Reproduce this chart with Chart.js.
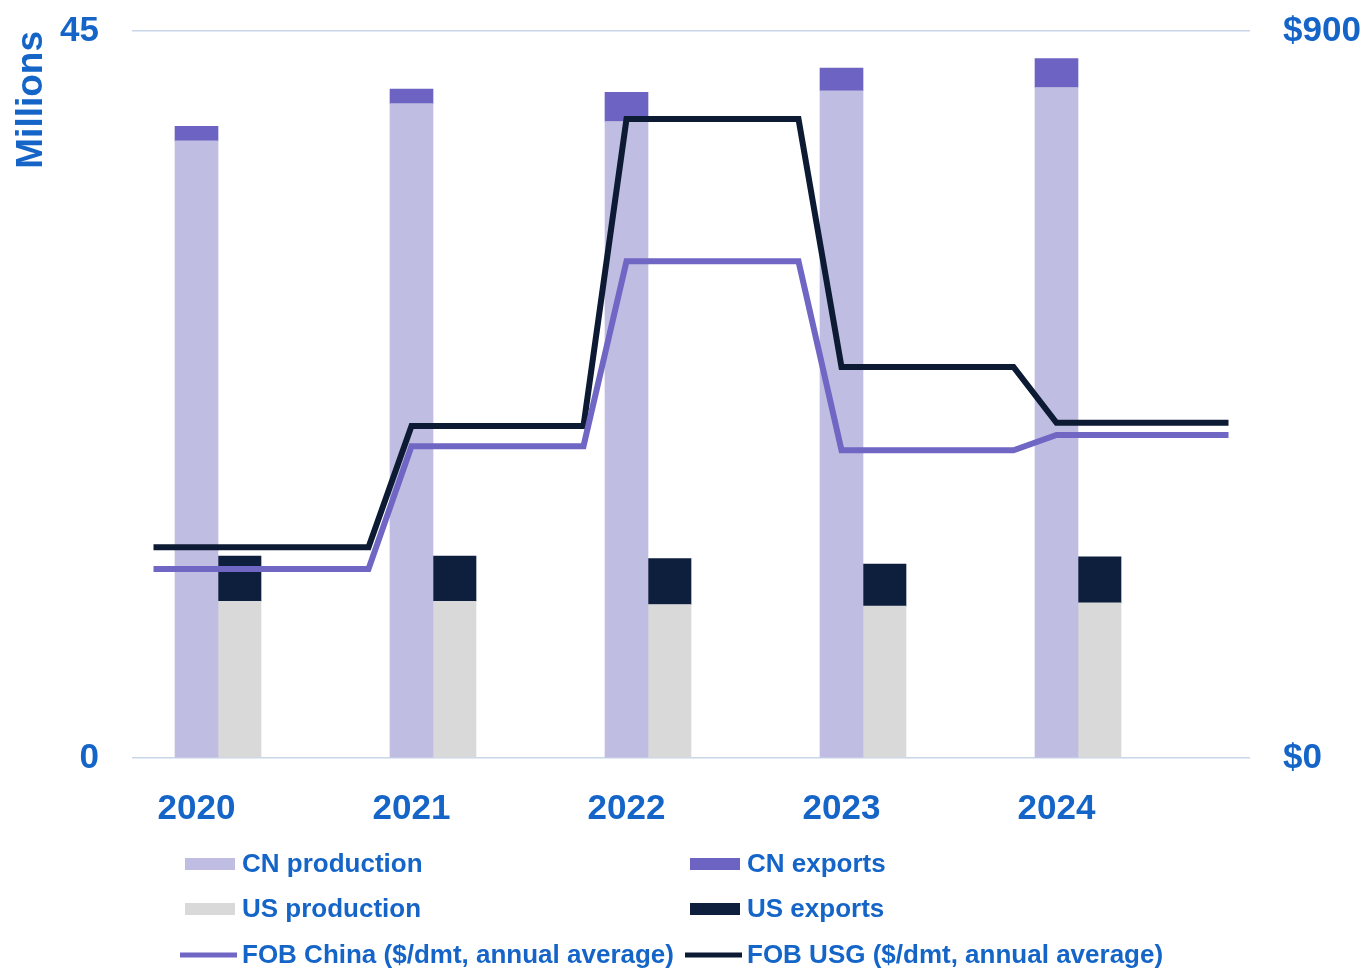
<!DOCTYPE html>
<html>
<head>
<meta charset="utf-8">
<title>CN and US production, exports and FOB prices</title>
<script src="https://cdn.jsdelivr.net/npm/chart.js@4.4.1/dist/chart.umd.min.js"></script>
<style>
  html, body { margin: 0; padding: 0; background: #fff; }
  #chart { display: block; }
</style>
</head>
<body>
<canvas id="chart" width="1367" height="970"></canvas>
<script>
var years = ['2020', '2021', '2022', '2023', '2024'];
// millions
var cnProduction = [38.2, 40.5, 39.4, 41.3, 41.5];
var cnExports = [0.9, 0.9, 1.8, 1.4, 1.8];
var usProduction = [9.7, 9.7, 9.5, 9.4, 9.6];
var usExports = [2.8, 2.8, 2.85, 2.6, 2.85];
// $/dmt
var fobChina = [234, 386, 615, 381, 400];
var fobUsg = [261, 411, 791, 484, 415];

var leftTicks = [0, 45];
var rightTicks = [0, 900];

// the x axis is cut in 26 narrow slots, 5 per year: CN bar in slot 1, US bar in slot 2
var slotsPerYear = 5;
var slotCount = years.length * slotsPerYear + 1;

function barSlots(values, offset) {
    var out = [];
    for (var s = 0; s < slotCount; s++) {
        var k = (s - offset) / slotsPerYear;
        out.push(k >= 0 && k % 1 === 0 && k < values.length ? values[k] : null);
    }
    return out;
}

function lineSlots(values) {
    var out = [];
    for (var s = 0; s < slotCount; s++) {
        out.push(values[Math.max(0, Math.floor((s - 1) / slotsPerYear))]);
    }
    return out;
}

var labels = barSlots(years, 1).map(function (v) { return v || ''; });

var blue = '#1565c8';
var font = '"Liberation Sans", Arial, sans-serif';

var legendPlugin = {
    id: 'gridLegend',
    afterDraw: function (chart) {
        var ctx = chart.ctx;
        var cols = [180, 685];
        var rows = [864, 909, 955];
        ctx.save();
        ctx.font = 'bold 26px ' + font;
        ctx.textBaseline = 'middle';
        ctx.textAlign = 'left';
        chart.data.datasets.forEach(function (ds, i) {
            var x = cols[i % 2];
            var y = rows[Math.floor(i / 2)];
            if (ds.type === 'line') {
                ctx.strokeStyle = ds.borderColor;
                ctx.lineWidth = 5;
                ctx.beginPath();
                ctx.moveTo(x, y);
                ctx.lineTo(x + 57, y);
                ctx.stroke();
            } else {
                ctx.fillStyle = ds.backgroundColor;
                ctx.fillRect(x + 5, y - 6, 50, 12);
            }
            ctx.fillStyle = blue;
            ctx.fillText(ds.label, x + 62, y + 1);
        });
        ctx.restore();
    }
};

// keep the plot box fixed: drop the half-label overhang chart.js reserves
function fixY(width) {
    return function (scale) {
        scale.width = width;
        scale.paddingTop = 0;
        scale.paddingBottom = 0;
    };
}

var ctx = document.getElementById('chart').getContext('2d');
var chart = new Chart(ctx, {
    data: {
        labels: labels,
        datasets: [
            {
                type: 'bar',
                label: 'CN production',
                data: barSlots(cnProduction, 1),
                backgroundColor: '#c0bde2',
                order: 1
            },
            {
                type: 'bar',
                label: 'CN exports',
                data: barSlots(cnExports, 1),
                backgroundColor: '#6c63c2',
                order: 1
            },
            {
                type: 'bar',
                label: 'US production',
                data: barSlots(usProduction, 2),
                backgroundColor: '#d9d9d9',
                order: 1
            },
            {
                type: 'bar',
                label: 'US exports',
                data: barSlots(usExports, 2),
                backgroundColor: '#0d1f3d',
                order: 1
            },
            {
                type: 'line',
                label: 'FOB China ($/dmt, annual average)',
                data: lineSlots(fobChina),
                borderColor: '#7066c4',
                borderWidth: 6,
                pointRadius: 0,
                tension: 0,
                yAxisID: 'y1',
                order: 0
            },
            {
                type: 'line',
                label: 'FOB USG ($/dmt, annual average)',
                data: lineSlots(fobUsg),
                borderColor: '#0c1a33',
                borderWidth: 6,
                pointRadius: 0,
                tension: 0,
                yAxisID: 'y1',
                order: 0
            }
        ]
    },
    options: {
        responsive: false,
        animation: false,
        layout: {
            padding: { top: 31, left: 0, right: 0, bottom: 0 }
        },
        datasets: {
            bar: {
                barPercentage: 1,
                categoryPercentage: 1
            }
        },
        plugins: {
            legend: { display: false },
            tooltip: { enabled: false }
        },
        scales: {
            x: {
                stacked: true,
                grid: { display: false },
                border: { display: false },
                ticks: {
                    autoSkip: false,
                    maxRotation: 0,
                    color: blue,
                    padding: 22,
                    font: { family: font, size: 35, weight: 'bold' }
                },
                afterFit: function (scale) {
                    scale.height = 212;
                    scale.paddingLeft = 0;
                    scale.paddingRight = 0;
                }
            },
            y: {
                stacked: true,
                min: leftTicks[0],
                max: leftTicks[1],
                afterBuildTicks: function (scale) {
                    scale.ticks = leftTicks.map(function (v) { return { value: v }; });
                },
                grid: { color: '#c8d6e8', lineWidth: 1.5, drawTicks: false },
                border: { display: false },
                ticks: {
                    color: blue,
                    padding: 33,
                    font: { family: font, size: 35, weight: 'bold' }
                },
                title: {
                    display: true,
                    text: 'Millions',
                    align: 'end',
                    color: blue,
                    padding: { top: 10, bottom: 0 },
                    font: { family: font, size: 37, weight: 'bold' }
                },
                afterFit: fixY(132)
            },
            y1: {
                position: 'right',
                stacked: false,
                min: rightTicks[0],
                max: rightTicks[1],
                afterBuildTicks: function (scale) {
                    scale.ticks = rightTicks.map(function (v) { return { value: v }; });
                },
                grid: { drawOnChartArea: false, drawTicks: false },
                border: { display: false },
                ticks: {
                    color: blue,
                    padding: 33,
                    callback: function (v) { return '$' + v; },
                    font: { family: font, size: 35, weight: 'bold' }
                },
                afterFit: fixY(117)
            }
        }
    },
    plugins: [legendPlugin]
});
</script>
</body>
</html>
